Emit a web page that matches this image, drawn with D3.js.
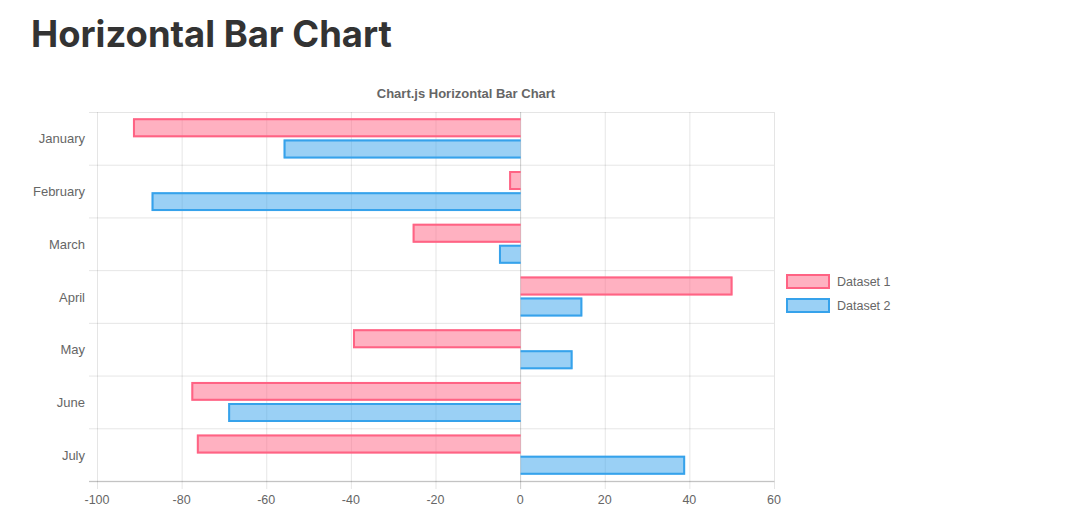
<html>
<head>
<meta charset="utf-8">
<title>Horizontal Bar Chart</title>
<script src="https://d3js.org/d3.v7.min.js"></script>
<style>
  body { margin: 0; background: #fff; }
  h1 { position: absolute; left: 31px; top: 12px; margin: 0; font-family: Inter, "Liberation Sans", sans-serif;
       font-weight: 700; font-size: 36.4px; color: #333; }
  svg { position: absolute; left: 0; top: 0; }
  text { font-family: "Liberation Sans", Arial, sans-serif; }
</style>
</head>
<body>
<h1>Horizontal Bar Chart</h1>
<script>
var months = ["January", "February", "March", "April", "May", "June", "July"];
var dataset1 = [-91.5, -2.6, -25.4, 50.2, -39.5, -77.7, -76.4];
var dataset2 = [-55.9, -87.1, -5.0, 14.7, 12.4, -69.0, 39.0];
var xTicks = [-100, -80, -60, -40, -20, 0, 20, 40, 60];

var series = [
  { name: "Dataset 1", values: dataset1, stroke: "rgb(255,99,132)", fill: "rgba(255,99,132,0.5)" },
  { name: "Dataset 2", values: dataset2, stroke: "rgb(54,162,235)", fill: "rgba(54,162,235,0.5)" }
];

var w = 1080, h = 523;
var pLeft = 97, pRight = 774, pTop = 112, pBottom = 481;

var svg = d3.select("body").append("svg").attr("width", w).attr("height", h);

var x = d3.scaleLinear().domain([-100, 60]).range([pLeft, pRight]);
var y = d3.scaleBand().domain(months).range([pTop, pBottom]);
var inner = d3.scaleBand().domain([0, 1]).range([0, y.bandwidth() * 0.8]).paddingInner(0.1).paddingOuter(0.05);

var grid = "rgba(0,0,0,0.1)";

// vertical grid lines
svg.append("g").selectAll("line").data(xTicks).enter().append("line")
  .attr("x1", d => x(d) + 0.5).attr("x2", d => x(d) + 0.5)
  .attr("y1", pTop).attr("y2", pBottom + 8)
  .attr("stroke", d => d === 0 ? "rgba(0,0,0,0.2)" : grid);

// horizontal grid lines at band edges
var edges = months.map(m => y(m)).concat([pBottom]);
svg.append("g").selectAll("line").data(edges).enter().append("line")
  .attr("x1", pLeft - 8).attr("x2", pRight)
  .attr("y1", d => d + 0.5).attr("y2", d => d + 0.5)
  .attr("stroke", grid);

svg.append("line").attr("x1", pLeft - 8).attr("x2", pRight + 0.5)
  .attr("y1", pBottom + 0.5).attr("y2", pBottom + 0.5).attr("stroke", "rgba(0,0,0,0.15)").attr("stroke-width", 1.5);

// x tick labels
svg.append("g").selectAll("text").data(xTicks).enter().append("text")
  .attr("x", d => x(d)).attr("y", pBottom + 23)
  .attr("text-anchor", "middle").attr("font-size", 12.5).attr("fill", "#666")
  .text(d => d);

// y labels
svg.append("g").selectAll("text").data(months).enter().append("text")
  .attr("x", 85).attr("y", d => y(d) + y.bandwidth() / 2 + 5)
  .attr("text-anchor", "end").attr("font-size", 13).attr("fill", "#666")
  .text(d => d);

// bars
series.forEach(function(s, si) {
  var g = svg.append("g");
  months.forEach(function(m, i) {
    var v = s.values[i];
    var x0 = x(0) + 0.5, x1 = x(v);
    var yy = y(m) + y.bandwidth() * 0.1 + inner(si);
    var bh = inner.bandwidth();
    g.append("rect")
      .attr("x", Math.min(x0, x1)).attr("y", yy)
      .attr("width", Math.abs(x1 - x0)).attr("height", bh)
      .attr("fill", s.fill);
    // border on three sides, base skipped
    var xs = x1 > x0 ? x1 - 1 : x1 + 1;
    g.append("path")
      .attr("d", "M" + x0 + "," + (yy + 1) + "H" + xs + "V" + (yy + bh - 1) + "H" + x0)
      .attr("fill", "none").attr("stroke", s.stroke).attr("stroke-width", 2);
  });
});

// chart title
svg.append("text").attr("x", 466).attr("y", 98)
  .attr("text-anchor", "middle").attr("font-size", 13).attr("font-weight", "bold").attr("fill", "#666")
  .text("Chart.js Horizontal Bar Chart");

// legend
var legend = svg.append("g").selectAll("g").data(series).enter().append("g")
  .attr("transform", (d, i) => "translate(787," + (275 + i * 24) + ")");
legend.append("rect").attr("width", 42).attr("height", 13)
  .attr("fill", d => d.fill).attr("stroke", d => d.stroke).attr("stroke-width", 2);
legend.append("text").attr("x", 50).attr("y", 11).attr("font-size", 12.5).attr("fill", "#666")
  .text(d => d.name);
</script>
</body>
</html>
